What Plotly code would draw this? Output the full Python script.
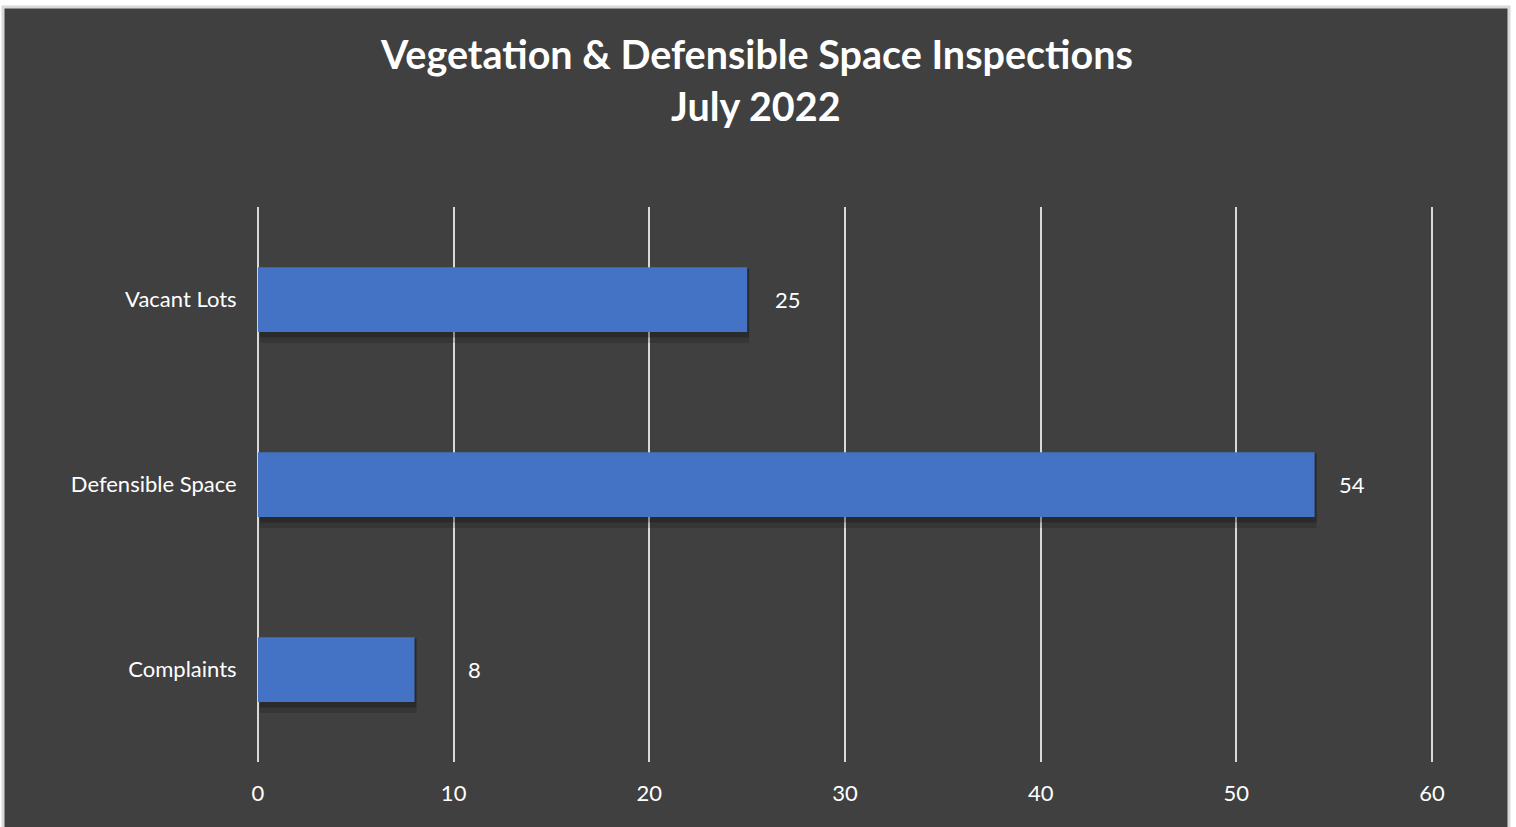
import plotly.graph_objects as go

# data
categories = ["Complaints", "Defensible Space", "Vacant Lots"]
inspections = [8, 54, 25]
x_ticks = [0, 10, 20, 30, 40, 50, 60]

title_lines = ["Vegetation & Defensible Space Inspections", "July 2022"]

BG = "#404040"
BAR = "#4472C4"
FONT = "Lato"
W, H = 1516, 827
L, R, T, B = 256, 82, 207, 65

# pixel distance of each value label from its bar end (as in the original)
label_shift = [60, 37, 41]

fig = go.Figure()

# soft drop shadow under the bars (two layers)
for spread, alpha in [(0.05, 0.15), (0.025, 0.22)]:
    fig.add_trace(go.Bar(
        y=categories, x=inspections, base=0.1, orientation="h",
        width=0.35 + spread, offset=-0.175 - spread * 1.2,
        marker=dict(color="rgba(0,0,0,%s)" % alpha, line=dict(width=0)),
        hoverinfo="skip", showlegend=False,
    ))
fig.add_trace(go.Bar(
    y=categories, x=inspections, orientation="h",
    width=0.35, offset=-0.175,
    marker=dict(color=BAR, line=dict(width=0)),
    showlegend=False,
))

# value labels to the right of each bar
for cat, val, sh in zip(categories, inspections, label_shift):
    fig.add_annotation(x=val, y=cat, text=str(val), showarrow=False,
                       xanchor="center", xshift=sh,
                       font=dict(family=FONT, size=22, color="white"))

fig.update_layout(
    width=W, height=H,
    paper_bgcolor="white", plot_bgcolor=BG,
    barmode="overlay",
    margin=dict(l=L, r=R, t=T, b=B),
    font=dict(family=FONT, color="white", size=22),
    xaxis=dict(range=[-0.1, 60.1], tickvals=x_ticks, showgrid=True,
               gridcolor="#d9d9d9", gridwidth=2, zeroline=False,
               showline=False, ticks="outside", ticklen=12, tickcolor=BG,
               tickfont=dict(size=22, color="white")),
    yaxis=dict(showgrid=False, zeroline=False, showline=False,
               ticks="outside", ticklen=14, tickcolor=BG,
               range=[-0.5, 2.5], tickfont=dict(size=22, color="white")),
)

# background card with light border
pw = W - L - R
ph = H - T - B


def px_x(p):
    return (p - L) / pw


def px_y(p):
    return (H - B - p) / ph


fig.add_shape(type="rect", xref="paper", yref="paper",
              x0=px_x(3), x1=px_x(1509), y0=px_y(840), y1=px_y(7),
              fillcolor=BG, line=dict(color="#d9d9d9", width=3), layer="below")

# two-line title
for i, line in enumerate(title_lines):
    fig.add_annotation(x=px_x(756), y=px_y(54 + 51 * i), xref="paper", yref="paper",
                       text="<b>%s</b>" % line, showarrow=False,
                       xanchor="center", yanchor="middle",
                       font=dict(family=FONT, size=39.5, color="white"))

fig.write_html("out.html", config={"displayModeBar": False},
               post_script="document.body.style.margin='0px';")
